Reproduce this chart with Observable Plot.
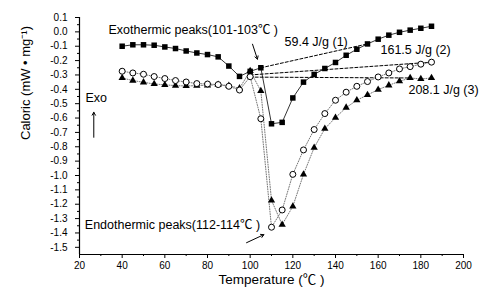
<!DOCTYPE html>
<html>
<head>
<meta charset="utf-8">
<script src="https://cdn.jsdelivr.net/npm/d3@7"></script>
<script src="https://cdn.jsdelivr.net/npm/@observablehq/plot@0.6"></script>
<style>
  html, body { margin: 0; padding: 0; background: white; }
</style>
</head>
<body>
<div id="chart"></div>
<script>
// Temperatures (°C)
const temps = [40,45,50,55,60,65,70,75,80,85,90,95,100,105,110,115,120,125,130,135,140,145,150,155,160,165,170,175,180,185];
// Sample (1) — filled squares
const sample1 = [-0.100,-0.090,-0.090,-0.093,-0.105,-0.116,-0.133,-0.147,-0.158,-0.174,-0.238,-0.310,-0.275,-0.250,-0.640,-0.630,-0.460,-0.350,-0.296,-0.255,-0.213,-0.163,-0.121,-0.084,-0.051,-0.023,-0.003,0.012,0.025,0.039];
// Sample (2) — open circles
const sample2 = [-0.274,-0.286,-0.295,-0.311,-0.325,-0.339,-0.349,-0.360,-0.363,-0.367,-0.379,-0.405,-0.312,-0.605,-1.360,-1.240,-0.992,-0.822,-0.680,-0.569,-0.476,-0.420,-0.379,-0.346,-0.314,-0.286,-0.258,-0.242,-0.225,-0.211];
// Sample (3) — filled triangles
const sample3 = [-0.321,-0.339,-0.351,-0.363,-0.369,-0.374,-0.377,-0.374,-0.372,-0.367,-0.374,-0.393,-0.272,-0.411,-1.173,-1.342,-1.215,-0.992,-0.806,-0.674,-0.597,-0.527,-0.476,-0.439,-0.402,-0.372,-0.344,-0.321,-0.328,-0.321];

// Dashed integration baselines (start/end temperatures and values)
const base1T = [105, 155], base1V = [-0.250, -0.084];
const base2T = [100, 185], base2V = [-0.300, -0.211];
const base3T = [100, 175], base3V = [-0.315, -0.321];

// Tick labels
const xTicks = [20,40,60,80,100,120,140,160,180,200];
const xMinor = [30,50,70,90,110,130,150,170,190];
const yTicks = [0.1,0.0,-0.1,-0.2,-0.3,-0.4,-0.5,-0.6,-0.7,-0.8,-0.9,-1.0,-1.1,-1.2,-1.3,-1.4,-1.5];
const yMinor = [0.05,-0.05,-0.15,-0.25,-0.35,-0.45,-0.55,-0.65,-0.75,-0.85,-0.95,-1.05,-1.15,-1.25,-1.35,-1.45];

// Annotation texts
const labels = [
  {t: 33.6, v: 0.010, text: "Exothermic peaks(101-103℃ )"},
  {t: 22.8, v: -0.457, text: "Exo"},
  {t: 116.1, v: -0.070, text: "59.4 J/g (1)"},
  {t: 161.1, v: -0.128, text: "161.5 J/g (2)"},
  {t: 174.2, v: -0.402, text: "208.1 J/g (3)"},
  {t: 22.5, v: -1.343, text: "Endothermic peaks(112-114℃ )"}
];
const arrows = [
  {t1: 101.1, v1: -0.086, t2: 103.4, v2: -0.190},
  {t1: 98.3, v1: -1.468, t2: 106.4, v2: -1.412},
  {t1: 26.7, v1: -0.734, t2: 26.7, v2: -0.560}
];

const s1 = temps.map((t, i) => ({t, v: sample1[i]}));
const s2 = temps.map((t, i) => ({t, v: sample2[i]}));
const s3 = temps.map((t, i) => ({t, v: sample3[i]}));
const b1 = base1T.map((t, i) => ({t, v: base1V[i]}));
const b2 = base2T.map((t, i) => ({t, v: base2V[i]}));
const b3 = base3T.map((t, i) => ({t, v: base3V[i]}));

const font = "'Liberation Sans', Arial, 'Noto Sans CJK SC', sans-serif";

const chart = Plot.plot({
  width: 496,
  height: 301,
  marginLeft: 79,
  marginRight: 33,
  marginTop: 17,
  marginBottom: 47,
  x: {domain: [20, 200]},
  y: {domain: [-1.55, 0.1]},
  style: {fontFamily: font, background: "white", color: "black"},
  marks: [
    Plot.axisX({ticks: xTicks, tickSize: 4, tickPadding: 3, tickFormat: d => String(d), fontSize: 10, label: null}),
    Plot.axisX({ticks: xMinor, tickSize: 2, tickFormat: () => "", label: null}),
    Plot.axisY({ticks: yTicks, tickSize: 4, tickPadding: 8, tickFormat: d => d.toFixed(1), fontSize: 10, label: null}),
    Plot.axisY({ticks: yMinor, tickSize: 2, tickFormat: () => "", label: null}),
    Plot.ruleX([20], {stroke: "black", strokeWidth: 1.2}),
    Plot.ruleY([-1.55], {stroke: "black", strokeWidth: 1.2}),
    // baselines
    Plot.line(b1, {x: "t", y: "v", stroke: "black", strokeDasharray: "3,2", strokeWidth: 1}),
    Plot.line(b2, {x: "t", y: "v", stroke: "black", strokeDasharray: "3,2", strokeWidth: 1}),
    Plot.line(b3, {x: "t", y: "v", stroke: "black", strokeDasharray: "3,2", strokeWidth: 1}),
    // series lines
    Plot.line(s2, {x: "t", y: "v", stroke: "#777", strokeDasharray: "1,1.5", strokeWidth: 1}),
    Plot.line(s3, {x: "t", y: "v", stroke: "#777", strokeDasharray: "1,1.5", strokeWidth: 1}),
    Plot.line(s1, {x: "t", y: "v", stroke: "black", strokeWidth: 0.8}),
    // markers
    Plot.dot(s3, {x: "t", y: "v", symbol: "triangle", r: 2.7, fill: "black", stroke: "none"}),
    Plot.dot(s2, {x: "t", y: "v", symbol: "circle", r: 3, fill: "white", stroke: "black", strokeWidth: 1}),
    Plot.dot(s1, {x: "t", y: "v", symbol: "square", r: 3.1, fill: "black", stroke: "none"}),
    // annotations
    Plot.arrow(arrows, {x1: "t1", y1: "v1", x2: "t2", y2: "v2", stroke: "black", strokeWidth: 1, headLength: 5}),
    Plot.text(labels, {x: "t", y: "v", text: "text", textAnchor: "start", fontSize: 12.5, fill: "black"}),
    Plot.text(["Temperature (℃ )"], {frameAnchor: "bottom", dy: 29, fontSize: 13.5, fill: "black"}),
    Plot.text(["Caloric (mW • mg⁻¹)"], {frameAnchor: "left", dx: -54, dy: 4, rotate: -90, fontSize: 13, fill: "black"})
  ]
});
document.getElementById("chart").appendChild(chart);
</script>
</body>
</html>
